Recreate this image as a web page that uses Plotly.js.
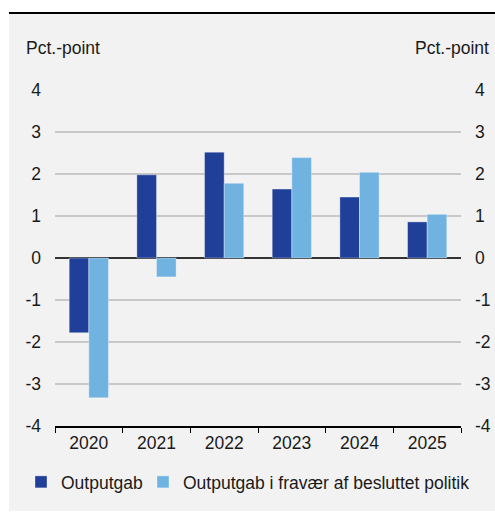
<!DOCTYPE html>
<html>
<head>
<meta charset="utf-8">
<script src="https://cdn.plot.ly/plotly-3.0.1.min.js"></script>
<style>html,body{margin:0;padding:0;background:#fff;}#chart{width:495px;height:513px;}</style>
</head>
<body>
<div id="chart"></div>
<script>
const years = ['2020', '2021', '2022', '2023', '2024', '2025'];
const outputgab = [-1.78, 1.98, 2.52, 1.64, 1.45, 0.86];
const outputgabUdenPolitik = [-3.33, -0.45, 1.78, 2.39, 2.04, 1.04];
const seriesNames = ['Outputgab', 'Outputgab i fravær af besluttet politik'];
const yTicks = [-4, -3, -2, -1, 0, 1, 2, 3, 4];
const unitLabel = 'Pct.-point';

const font = {family: 'Liberation Sans, Arial, sans-serif', size: 17.5, color: '#1a1a1a'};

const traces = [
  {type: 'bar', x: years, y: outputgab, name: seriesNames[0], legend: 'legend', marker: {color: '#1f3f98', line: {color: 'rgba(255,255,255,0.35)', width: 1}}},
  {type: 'bar', x: years, y: outputgabUdenPolitik, name: seriesNames[1], legend: 'legend2', marker: {color: '#70b3e1', line: {color: 'rgba(255,255,255,0.35)', width: 1}}},
  {type: 'bar', x: years, y: years.map(() => null), yaxis: 'y2', showlegend: false, hoverinfo: 'skip'}
];

const W = 406, H = 336, L = 55, T = 90;
const px = v => (v - L) / W;
const py = v => (T + H - v) / H;

const legendBase = {orientation: 'h', xanchor: 'left', y: py(482), yanchor: 'middle', font: font, bgcolor: 'rgba(0,0,0,0)'};

const layout = {
  width: 495, height: 513,
  margin: {l: L, r: 495 - L - W, t: T, b: 513 - T - H, pad: 0},
  paper_bgcolor: '#ffffff',
  plot_bgcolor: 'rgba(0,0,0,0)',
  font: font,
  barmode: 'group',
  bargap: 0.42,
  bargroupgap: 0,
  showlegend: true,
  legend: Object.assign({x: px(21)}, legendBase),
  legend2: Object.assign({x: px(143)}, legendBase),
  xaxis: {
    type: 'category', showgrid: false, showline: true, linecolor: '#000', linewidth: 1.5,
    ticks: 'outside', tickson: 'boundaries', ticklen: 5, tickcolor: '#000', tickwidth: 1,
    tickfont: font, fixedrange: true, zeroline: false
  },
  yaxis: {
    range: [-4, 4], tickvals: yTicks, ticktext: yTicks.map(String), showgrid: true,
    gridcolor: '#c8c8c8', gridwidth: 1.5, zeroline: true, zerolinecolor: '#333', zerolinewidth: 2,
    showline: false, ticks: '', tickfont: font, ticklabelstandoff: 13, fixedrange: true
  },
  yaxis2: {
    range: [-4, 4], tickvals: yTicks, ticktext: yTicks.map(String), overlaying: 'y', side: 'right',
    showgrid: false, zeroline: false, showline: false, ticks: '', tickfont: font, ticklabelstandoff: 13, fixedrange: true
  },
  shapes: [
    {type: 'rect', xref: 'paper', yref: 'paper', x0: px(9), x1: px(495), y0: py(511), y1: py(14), fillcolor: '#f2f2f2', line: {width: 0}, layer: 'below'},
    {type: 'line', xref: 'paper', yref: 'paper', x0: px(9), x1: px(495), y0: py(13), y1: py(13), line: {color: '#000', width: 2}}
  ],
  annotations: [
    {xref: 'paper', yref: 'paper', x: px(24), y: py(48), xanchor: 'left', yanchor: 'middle', text: unitLabel, showarrow: false, font: font},
    {xref: 'paper', yref: 'paper', x: px(491), y: py(48), xanchor: 'right', yanchor: 'middle', text: unitLabel, showarrow: false, font: font}
  ]
};

Plotly.newPlot('chart', traces, layout, {displayModeBar: false, staticPlot: true});
</script>
</body>
</html>
